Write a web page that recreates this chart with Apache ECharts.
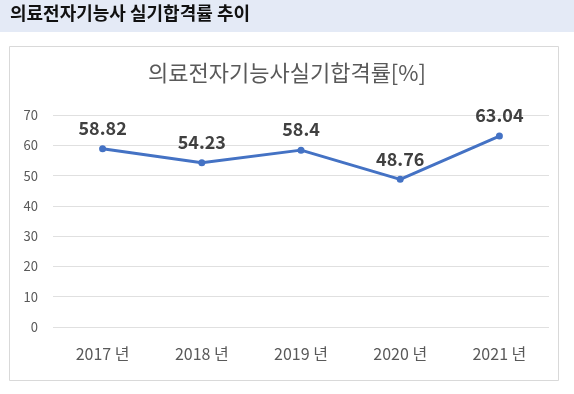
<!DOCTYPE html>
<html><head><meta charset="utf-8">
<script src="https://cdn.jsdelivr.net/npm/echarts@6/dist/echarts.min.js"></script>
<style>html,body{margin:0;padding:0;background:#fff}#c{width:574px;height:394px}</style>
</head><body><div id="c"></div>
<script>
const categories = ['2017 년','2018 년','2019 년','2020 년','2021 년'];
const passRates = [58.82, 54.23, 58.4, 48.76, 63.04];
const headerText = '의료전자기능사 실기합격률 추이';
const chartTitle = '의료전자기능사실기합격률[%]';

const chart = echarts.init(document.getElementById('c'), null, {renderer:'canvas'});
const font = '"Noto Sans CJK KR","Noto Sans",sans-serif';
chart.setOption({
  animation:false,
  backgroundColor:'#fff',
  graphic:[
    {type:'rect', shape:{x:0,y:0,width:574,height:32}, style:{fill:'#E4EAF6'}, z:0},
    {type:'text', left:10, top:4, style:{text:headerText, font:'bold 18px '+font, fill:'#111'}},
    {type:'rect', shape:{x:9.5,y:46.5,width:549,height:334}, style:{fill:'none', stroke:'#D9D9D9', lineWidth:1}}
  ],
  title:{text:chartTitle, left:'center', top:57, textStyle:{fontFamily:font, fontSize:22, fontWeight:'normal', color:'#595959'}},
  grid:{left:53, right:25, top:115, bottom:67},
  xAxis:{type:'category', data:categories, boundaryGap:true,
    axisLine:{show:false}, axisTick:{show:false},
    axisLabel:{fontFamily:font, fontSize:16, color:'#595959', margin:19}},
  yAxis:{type:'value', min:0, max:70, interval:10,
    axisLine:{show:false}, axisTick:{show:false},
    splitLine:{lineStyle:{color:'#E0E0E0', width:1}},
    axisLabel:{fontFamily:font, fontSize:13, color:'#595959', margin:15}},
  series:[{type:'line', data:passRates, symbol:'circle', symbolSize:7,
    lineStyle:{color:'#4472C4', width:3}, itemStyle:{color:'#4472C4'},
    label:{show:true, position:'top', distance:8, fontFamily:font, fontSize:18, fontWeight:'bold', color:'#404040'}}]
});
</script></body></html>
